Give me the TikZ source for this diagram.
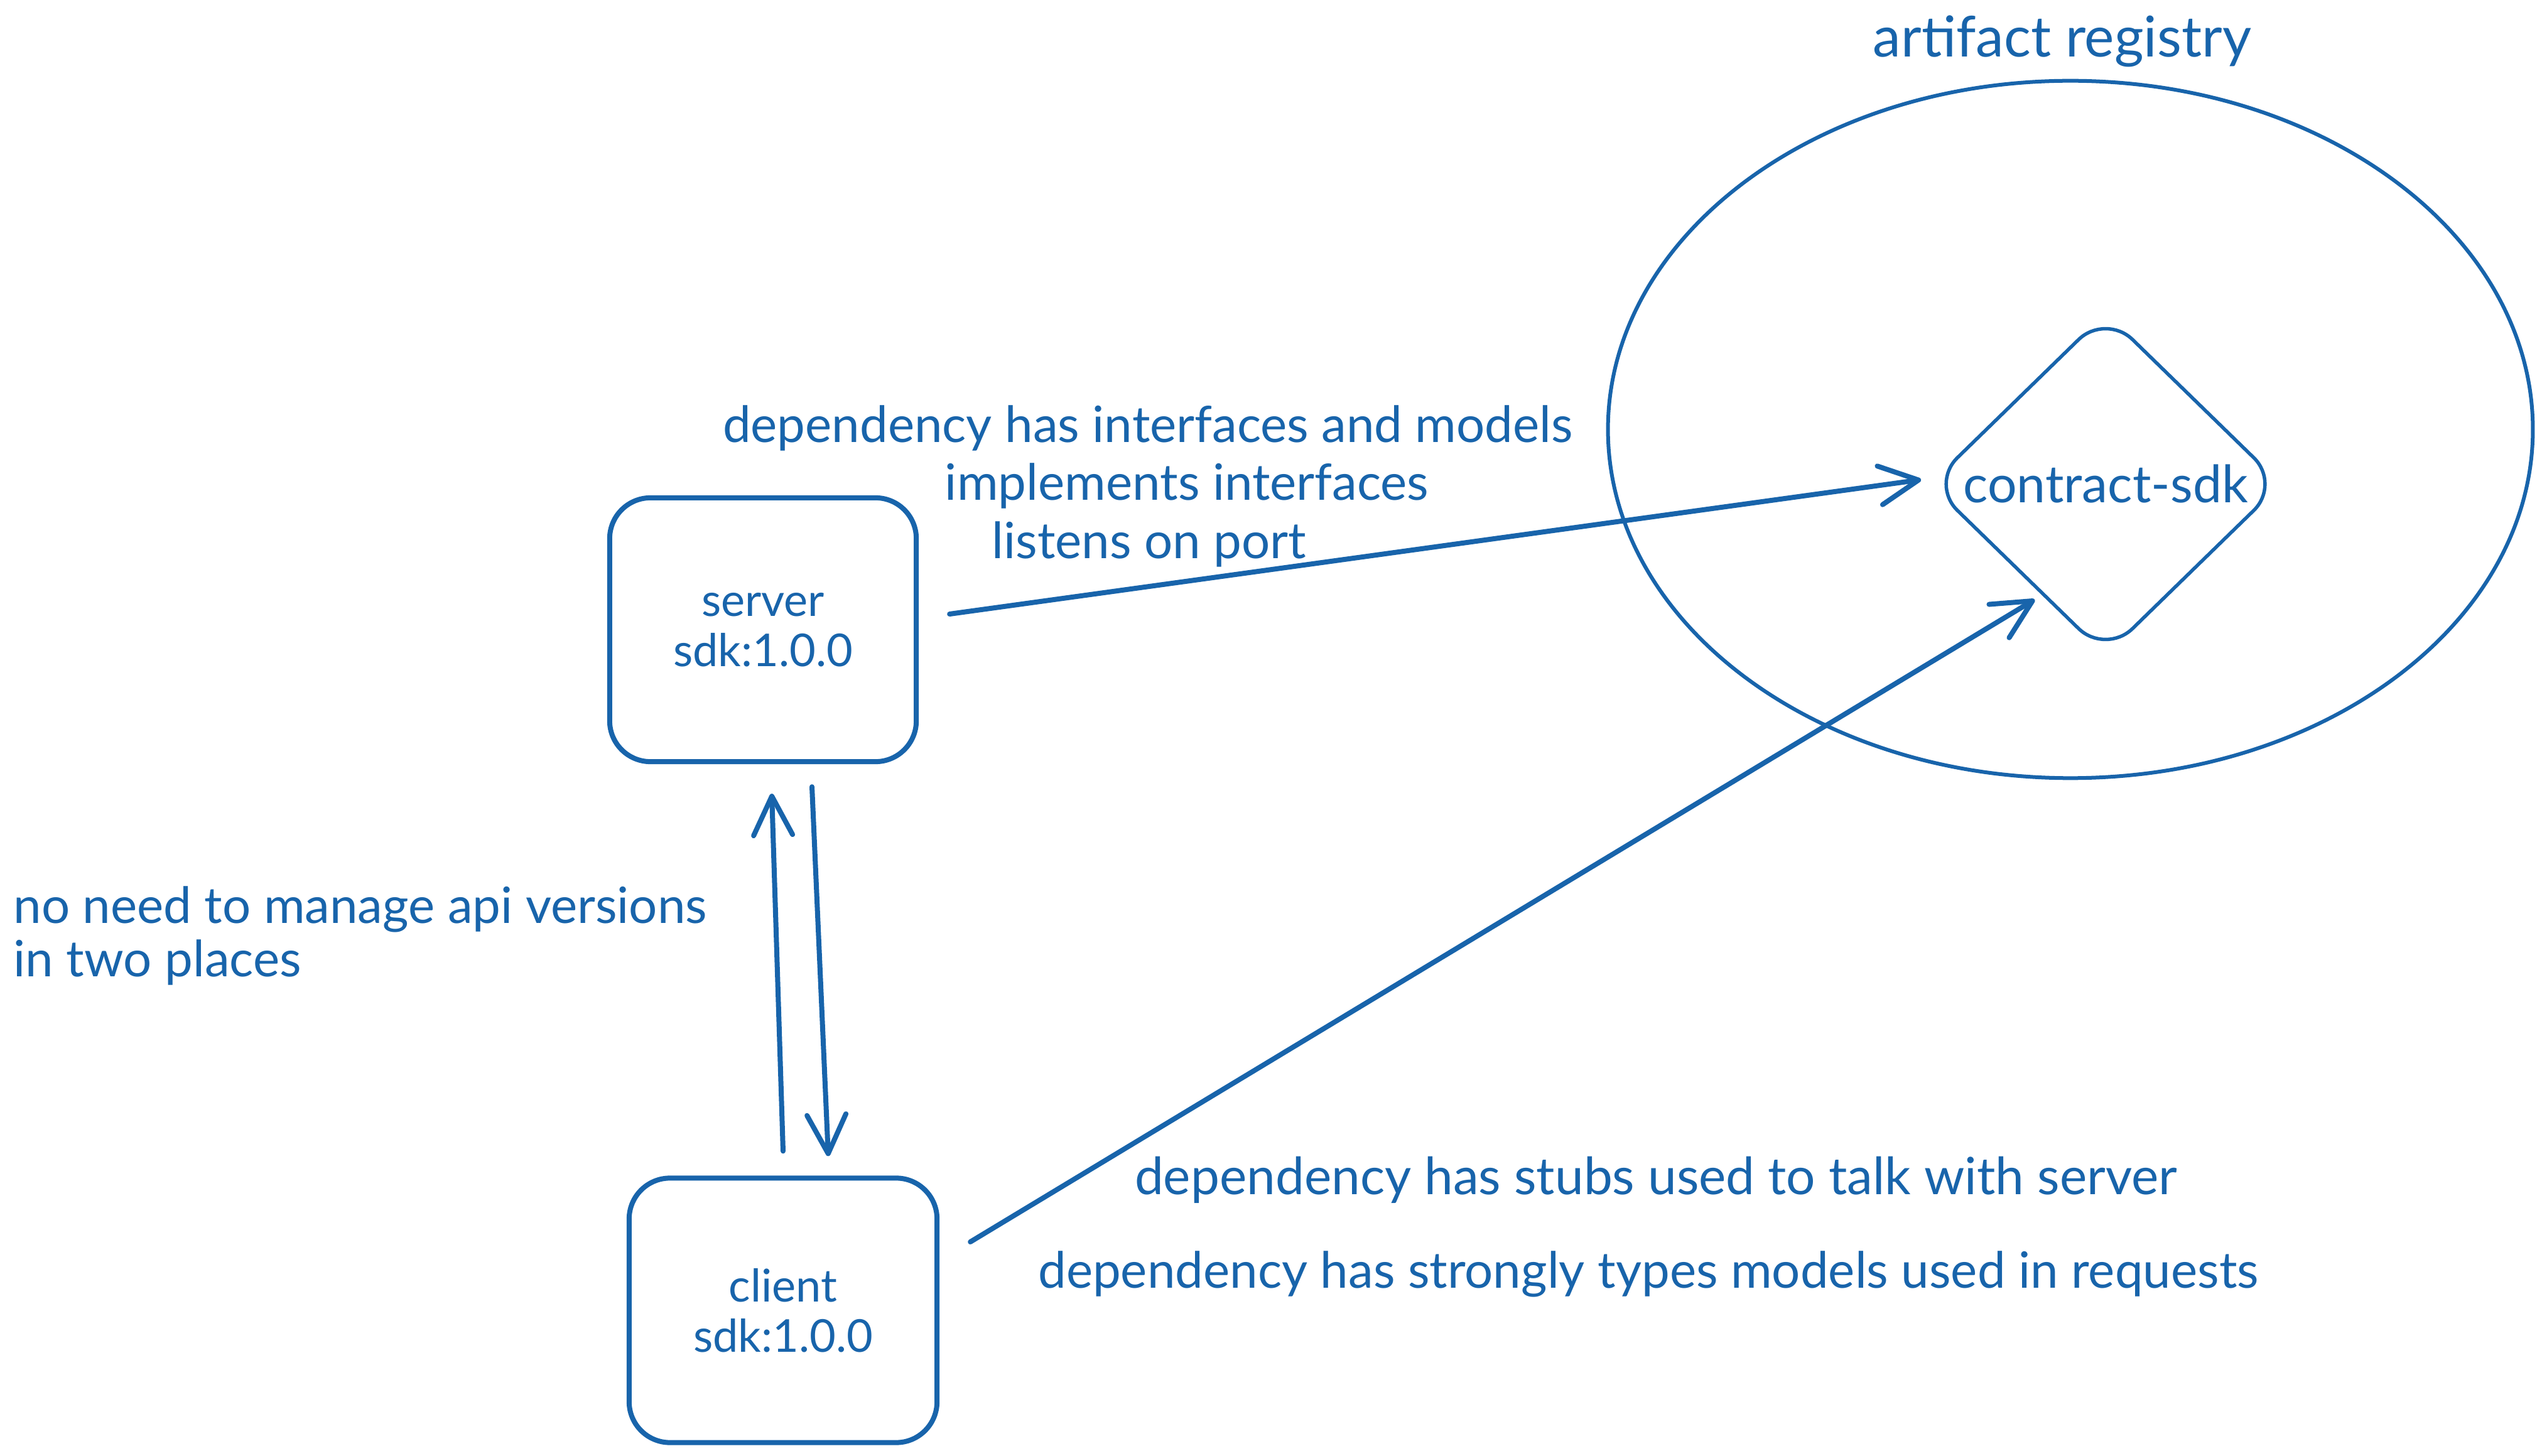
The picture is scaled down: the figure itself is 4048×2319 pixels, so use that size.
\documentclass[tikz,border=0pt]{standalone}
\usepackage{fontspec}
\setmainfont{Lato}
\usetikzlibrary{arrows.meta,shapes.geometric,calc}
\definecolor{ink}{HTML}{1864AB}
\tikzset{
  boxnode/.style={draw=ink, line width=0.08cm, rounded corners=0.65cm, align=center,
    text=ink, font=\fontsize{20.5}{22.8}\selectfont, inner sep=0pt},
  note/.style={text=ink, font=\fontsize{22.7}{26}\selectfont, inner sep=0pt},
  conn/.style={draw=ink, line width=0.08cm, line cap=round,
    -{Straight Barb[length=0.62cm, width=0.62cm, round]}},
}
\begin{document}
\begin{tikzpicture}[x=0.01cm, y=-0.01cm]
\useasboundingbox (0,0) rectangle (4048,2319);

% registry
\node[draw=ink, ellipse, line width=0.06cm, minimum width=14.72cm, minimum height=11.10cm, inner sep=0pt] (registry) at (3297,684) {};
\node[note, font=\fontsize{25.5}{30}\selectfont] (reglabel) at (3284,66) {artifact registry};
\node[draw=ink, diamond, line width=0.055cm, rounded corners=0.6cm, minimum width=5.60cm, minimum height=5.46cm, inner sep=0pt, text=ink, font=\fontsize{23.4}{28}\selectfont] (sdk) at (3353,771) {contract-sdk};

% boxes
\node[boxnode, minimum width=4.88cm, minimum height=4.20cm] (server) at (1215,1003) {server\\sdk:1.0.0};
\node[boxnode, minimum width=4.90cm, minimum height=4.21cm] (client) at (1247,2087) {client\\sdk:1.0.0};

% connectors
\draw[conn] ([shift={(49,-25)}]server.east) -- ([shift={(-11,-7)}]sdk.west);
\draw[conn] ([shift={(49,-109)}]client.east) -- ([shift={(-113,184)}]sdk.center);
\draw[conn] ([shift={(0,-39)}]client.north) -- ([shift={(14,47)}]server.south);
\draw[conn] ([shift={(78,36)}]server.south) -- ([shift={(72,-31)}]client.north);

% notes
\node[note] (n1) at (1828,682) {dependency has interfaces and models};
\node[note] (n2) at (1890,774) {implements interfaces};
\node[note] (n3) at (1830,867) {listens on port};
\node[note, anchor=west, align=left, font=\fontsize{22.7}{24.2}\selectfont] (n4) at (21,1490) {no need to manage api versions\\in two places};
\node[note, font=\fontsize{23.3}{26}\selectfont] (n5) at (2637,1879) {dependency has stubs used to talk with server};
\node[note] (n6) at (2625,2029) {dependency has strongly types models used in requests};
\end{tikzpicture}
\end{document}
